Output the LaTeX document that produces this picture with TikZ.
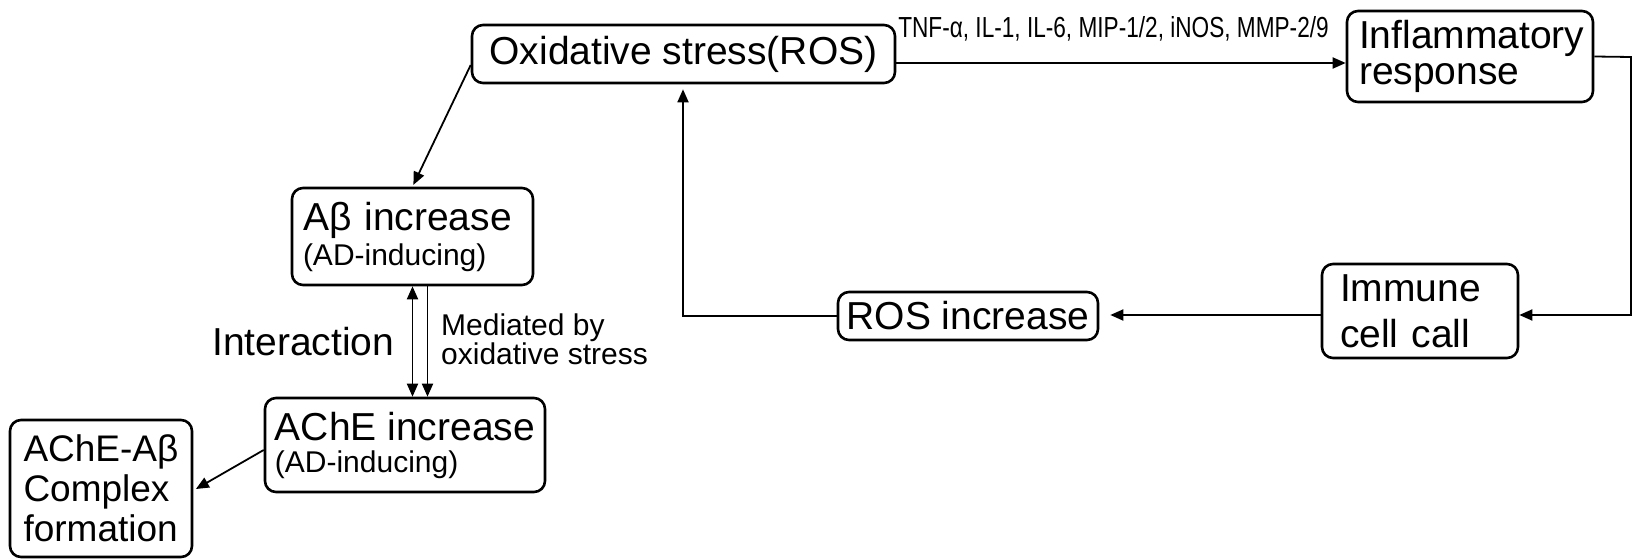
\documentclass[tikz,border=0pt]{standalone}
\usepackage{fontspec}
\setmainfont{Liberation Sans}
\newfontfamily\tnffont[FakeStretch=0.78]{Liberation Sans}
\usetikzlibrary{arrows.meta}
\tikzset{
  box/.style={draw, line width=2.6pt, rounded corners=11pt, inner sep=0pt},
  arr/.style={line width=1.8pt, -{Triangle[length=13pt,width=11pt]}},
  arrboth/.style={line width=1.8pt, {Triangle[length=13pt,width=11pt]}-{Triangle[length=13pt,width=11pt]}},
  big/.style={font=\fontsize{39}{39}\selectfont},
}
\begin{document}
\begin{tikzpicture}[x=1pt,y=-1pt]
\useasboundingbox (0,0) rectangle (1636,559);
% boxes
\node[box, minimum width=423pt, minimum height=58pt, big] (ox) at (683.5,54) {Oxidative stress(ROS)};
\node[box, minimum width=246pt, minimum height=91pt, text width=222pt, align=left,
      font=\fontsize{39}{36}\selectfont] (infl) at (1470,56.5) {Inflammatory\\response};
\node[box, minimum width=196pt, minimum height=94pt, text width=160pt, align=left,
      font=\fontsize{39}{46}\selectfont] (imm) at (1420,311) {Immune\\cell call};
\node[box, minimum width=260pt, minimum height=48pt, big] (ros) at (968,316) {ROS increase};
\node[box, minimum width=241pt, minimum height=97pt, text width=219pt, align=left,
      font=\fontsize{39}{35}\selectfont] (ab) at (412.5,236.5) {Aβ increase\\\fontsize{30}{35}\selectfont (AD-inducing)};
\node[box, minimum width=280pt, minimum height=94pt, align=left,
      font=\fontsize{39}{32}\selectfont] (ache) at (405,445) {AChE increase\\\fontsize{30}{32}\selectfont (AD-inducing)};
\node[box, minimum width=182pt, minimum height=137pt, align=left,
      font=\fontsize{37}{40}\selectfont] (cplx) at (101,488.5) {AChE-Aβ\\Complex\\formation};
% labels
\node[anchor=base, inner sep=0pt, font=\tnffont\fontsize{29}{29}\selectfont] (tnf) at (1113.5,38) {TNF-α, IL-1, IL-6, MIP-1/2, iNOS, MMP-2/9};
\node[anchor=base west, inner sep=0pt, big] (inter) at (212,355) {Interaction};
\node[anchor=north west, inner sep=0pt, align=left, font=\fontsize{30}{29}\selectfont] (med) at (441,314) {Mediated by\\oxidative stress};
% connectors
\coordinate (rt) at (1631,57);
\coordinate (lc) at (683,316);
\draw[arr] ([yshift=-9pt]ox.east) -- ([yshift=-9pt]ox.east -| infl.west);
\draw[arr] (infl.east) -- (rt) |- ([yshift=-4pt]imm.east);
\draw[arr, shorten >=11pt] ([yshift=-4pt]imm.west) -- ([yshift=-4pt]imm.west -| ros.east);
\draw[arr, shorten >=5pt] (ros.west) -- (lc) -- (lc |- ox.south);
\draw[arr, shorten >=2pt] ([yshift=-11pt]ox.west) -- (ab.north);
\draw[arrboth] (ab.south) -- (ab.south |- ache.north);
\draw[arr] ([xshift=15pt]ab.south) -- ([xshift=15pt]ab.south |- ache.north);
\draw[arr, shorten >=3pt] ([yshift=-5pt]ache.west) -- ([yshift=-2pt]cplx.east);
\end{tikzpicture}
\end{document}
